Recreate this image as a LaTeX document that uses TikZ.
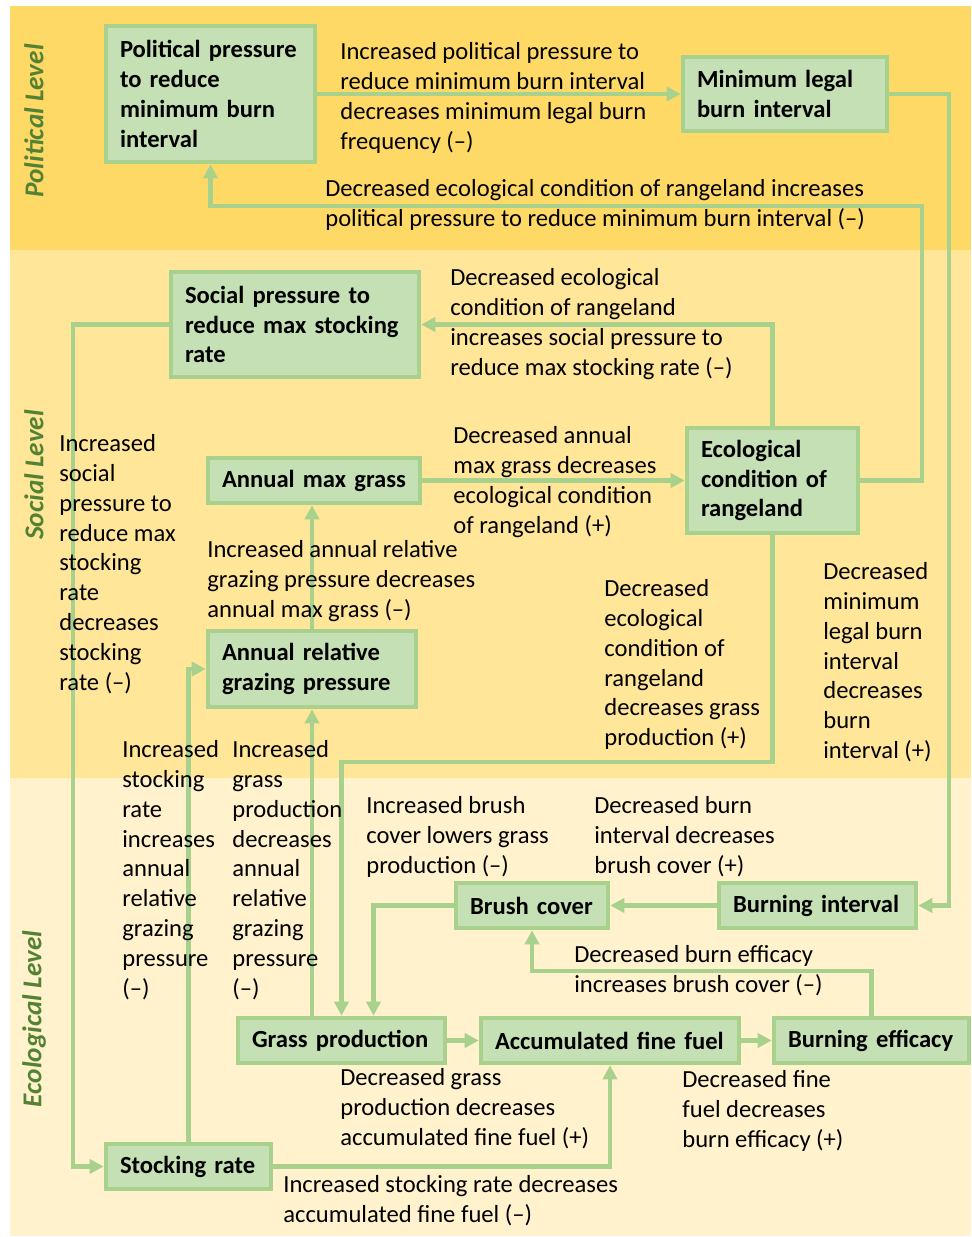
\documentclass[tikz,border=0pt]{standalone}
\usepackage{fontspec}
\setmainfont{Carlito}
\usetikzlibrary{arrows.meta, calc}
\definecolor{polband}{HTML}{FFD966}
\definecolor{socband}{HTML}{FFE699}
\definecolor{ecoband}{HTML}{FFF2CC}
\definecolor{boxfill}{HTML}{C5E0B4}
\definecolor{boxline}{HTML}{A9D18E}
\definecolor{levelgreen}{HTML}{548235}

\begin{document}
\begin{tikzpicture}[
  x=0.02cm, y=-0.02cm,
  font=\fontsize{14}{17}\selectfont,
  box/.style={rectangle, draw=boxline, fill=boxfill, line width=2.6pt,
              inner xsep=0.28cm, inner ysep=0pt, align=left,
              font=\fontsize{14}{17}\selectfont\bfseries},
  lbl/.style={anchor=north west, inner sep=0pt, align=left},
  level/.style={rotate=90, font=\fontsize{15.5}{18}\selectfont\bfseries\itshape,
                text=levelgreen},
  arr/.style={-{Triangle[length=8pt, width=8pt]}, boxline, line width=2.3pt}
]
  \useasboundingbox (0,0) rectangle (971,1237);

  % level bands
  \fill[polband] (10,6) rectangle (971,250);
  \fill[socband] (10,250) rectangle (971,778);
  \fill[ecoband] (10,778) rectangle (971,1236);
  \node[level] (lvlpol) at (34,121)  {Political Level};
  \node[level] (lvlsoc) at (34,475)  {Social Level};
  \node[level] (lvleco) at (34,1019) {Ecological Level};

  % variables
  \node[box, text width=3.62cm, minimum height=2.72cm] (pol)      at (210.5,94)   {Political pressure\\to reduce\\minimum burn\\interval};
  \node[box, text width=3.52cm, minimum height=1.48cm] (minlegal) at (785,94)     {Minimum legal\\burn interval};
  \node[box, text width=4.40cm, minimum height=2.10cm] (social)   at (295,324.5)  {Social pressure to\\reduce max stocking\\rate};
  \node[box, text width=3.68cm, minimum height=0.90cm] (maxgrass) at (314,480.5)  {Annual max grass};
  \node[box, text width=2.86cm, minimum height=2.10cm] (eco)      at (772.5,480.5){Ecological\\condition of\\rangeland};
  \node[box, text width=3.60cm, minimum height=1.52cm] (grazing)  at (312,669)    {Annual relative\\grazing pressure};
  \node[box, text width=2.48cm, minimum height=0.90cm] (brush)    at (532,905.5)  {Brush cover};
  \node[box, text width=3.38cm, minimum height=0.90cm] (burnint)  at (817.5,905.5){Burning interval};
  \node[box, text width=3.58cm, minimum height=0.90cm] (grass)    at (341.5,1040.5){Grass production};
  \node[box, text width=4.60cm, minimum height=0.90cm] (fuel)     at (610,1040.5) {Accumulated fine fuel};
  \node[box, text width=3.34cm, minimum height=0.90cm] (efficacy) at (871.5,1040.5){Burning efficacy};
  \node[box, text width=2.74cm, minimum height=0.90cm] (stock)    at (188.5,1166.5){Stocking rate};

  % links
  \draw[arr] (pol.east) -- (minlegal.west);
  \draw[arr] (minlegal.east) -- ++(60,0) |- (burnint.east);
  \draw[arr] (eco.east) -- ++(62,0) |- ($(pol.south)+(0,42)$) -- (pol.south);
  \draw[arr] (eco.north) |- (social.east);
  \draw[arr] (social.west) -- ++(-96,0) |- (stock.west);
  \draw[arr] (maxgrass.east) -- (eco.west);
  \draw[arr] (grazing.north) -- (grazing.north |- maxgrass.south);
  \draw[arr] (stock.north) |- (grazing.west);
  \draw[arr] (grazing.south |- grass.north) -- (grazing.south);
  \draw[arr] (eco.south) -- ++(0,227) -| (grass.north);
  \draw[arr] (brush.west) -| ($(grass.north)+(32,0)$);
  \draw[arr] (burnint.west) -- (brush.east);
  \draw[arr] (efficacy.north) -- ++(0,-45) -| (brush.south);
  \draw[arr] (grass.east) -- (fuel.west);
  \draw[arr] (fuel.east) -- (efficacy.west);
  \draw[arr] (stock.east) -| (fuel.south);

  % link labels
  \node[lbl] (t1)  at (340,42)   {Increased political pressure to\\reduce minimum burn interval\\decreases minimum legal burn\\frequency (–)};
  \node[lbl] (t2)  at (325,179)  {Decreased ecological condition of rangeland increases\\political pressure to reduce minimum burn interval (–)};
  \node[lbl] (t3)  at (450,268)  {Decreased ecological\\condition of rangeland\\increases social pressure to\\reduce max stocking rate (–)};
  \node[lbl] (t4)  at (59,434)   {Increased\\social\\pressure to\\reduce max\\stocking\\rate\\decreases\\stocking\\rate (–)};
  \node[lbl] (t5)  at (453,426)  {Decreased annual\\max grass decreases\\ecological condition\\of rangeland (+)};
  \node[lbl] (t6)  at (207,540)  {Increased annual relative\\grazing pressure decreases\\annual max grass (–)};
  \node[lbl] (t7)  at (604,579)  {Decreased\\ecological\\condition of\\rangeland\\decreases grass\\production (+)};
  \node[lbl] (t8)  at (823,562)  {Decreased\\minimum\\legal burn\\interval\\decreases\\burn\\interval (+)};
  \node[lbl] (t9)  at (122,740)  {Increased\\stocking\\rate\\increases\\annual\\relative\\grazing\\pressure\\(–)};
  \node[lbl] (t10) at (232,740)  {Increased\\grass\\production\\decreases\\annual\\relative\\grazing\\pressure\\(–)};
  \node[lbl] (t11) at (366,796)  {Increased brush\\cover lowers grass\\production (–)};
  \node[lbl] (t12) at (594,796)  {Decreased burn\\interval decreases\\brush cover (+)};
  \node[lbl] (t13) at (574,945)  {Decreased burn efficacy\\increases brush cover (–)};
  \node[lbl] (t14) at (340,1068) {Decreased grass\\production decreases\\accumulated fine fuel (+)};
  \node[lbl] (t15) at (682,1070) {Decreased fine\\fuel decreases\\burn efficacy (+)};
  \node[lbl] (t16) at (283,1175) {Increased stocking rate decreases\\accumulated fine fuel (–)};
\end{tikzpicture}
\end{document}
